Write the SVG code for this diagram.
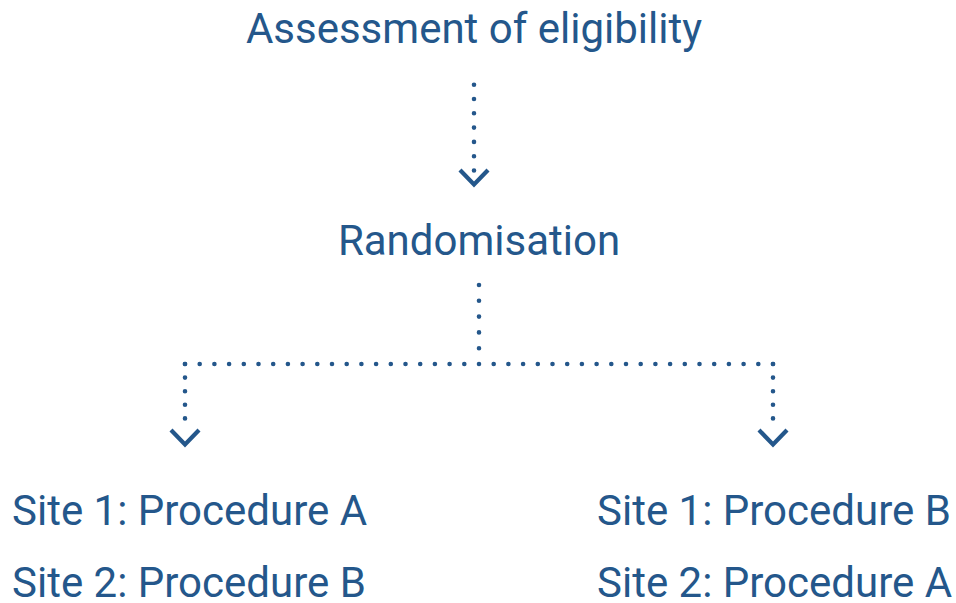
<svg xmlns="http://www.w3.org/2000/svg" width="956" height="603" viewBox="0 0 956 603">
  <style>
    .label { font-family: Roboto, "Liberation Sans", sans-serif; font-size: 42px; fill: #24578b; }
    .dots { fill: none; stroke: #24578b; stroke-width: 4.6; stroke-linecap: round; stroke-dasharray: 0 14.7; }
    .chev { fill: none; stroke: #24578b; stroke-width: 4.2; stroke-linecap: butt; stroke-linejoin: miter; }
  </style>
  <rect width="956" height="603" fill="#ffffff"/>

  <g id="assessment">
    <text class="label" x="474" y="43" text-anchor="middle">Assessment of eligibility</text>
  </g>
  <g id="randomisation">
    <text class="label" x="479" y="255" text-anchor="middle">Randomisation</text>
  </g>
  <g id="arm-left">
    <text class="label" x="12" y="525">Site 1: Procedure A</text>
    <text class="label" x="12" y="597">Site 2: Procedure B</text>
  </g>
  <g id="arm-right">
    <text class="label" x="597" y="525">Site 1: Procedure B</text>
    <text class="label" x="597" y="597">Site 2: Procedure A</text>
  </g>

  <g id="connectors">
    <!-- eligibility to randomisation -->
    <path class="dots" d="M474 84.7 V171" style="stroke-dasharray: 0 14.3"/>
    <path class="chev" d="M460 170 L474 184.5 L488 170"/>
    <!-- randomisation trunk -->
    <path class="dots" d="M479 285 V364" style="stroke-dasharray: 0 15.8"/>
    <!-- split bar -->
    <path class="dots" d="M185 364 H773"/>
    <!-- left branch -->
    <path class="dots" d="M185 364 V432" style="stroke-dasharray: 0 13.6"/>
    <path class="chev" d="M171 430 L185 444.5 L199 430"/>
    <!-- right branch -->
    <path class="dots" d="M773 364 V432" style="stroke-dasharray: 0 13.6"/>
    <path class="chev" d="M759 430 L773 444.5 L787 430"/>
  </g>
</svg>
